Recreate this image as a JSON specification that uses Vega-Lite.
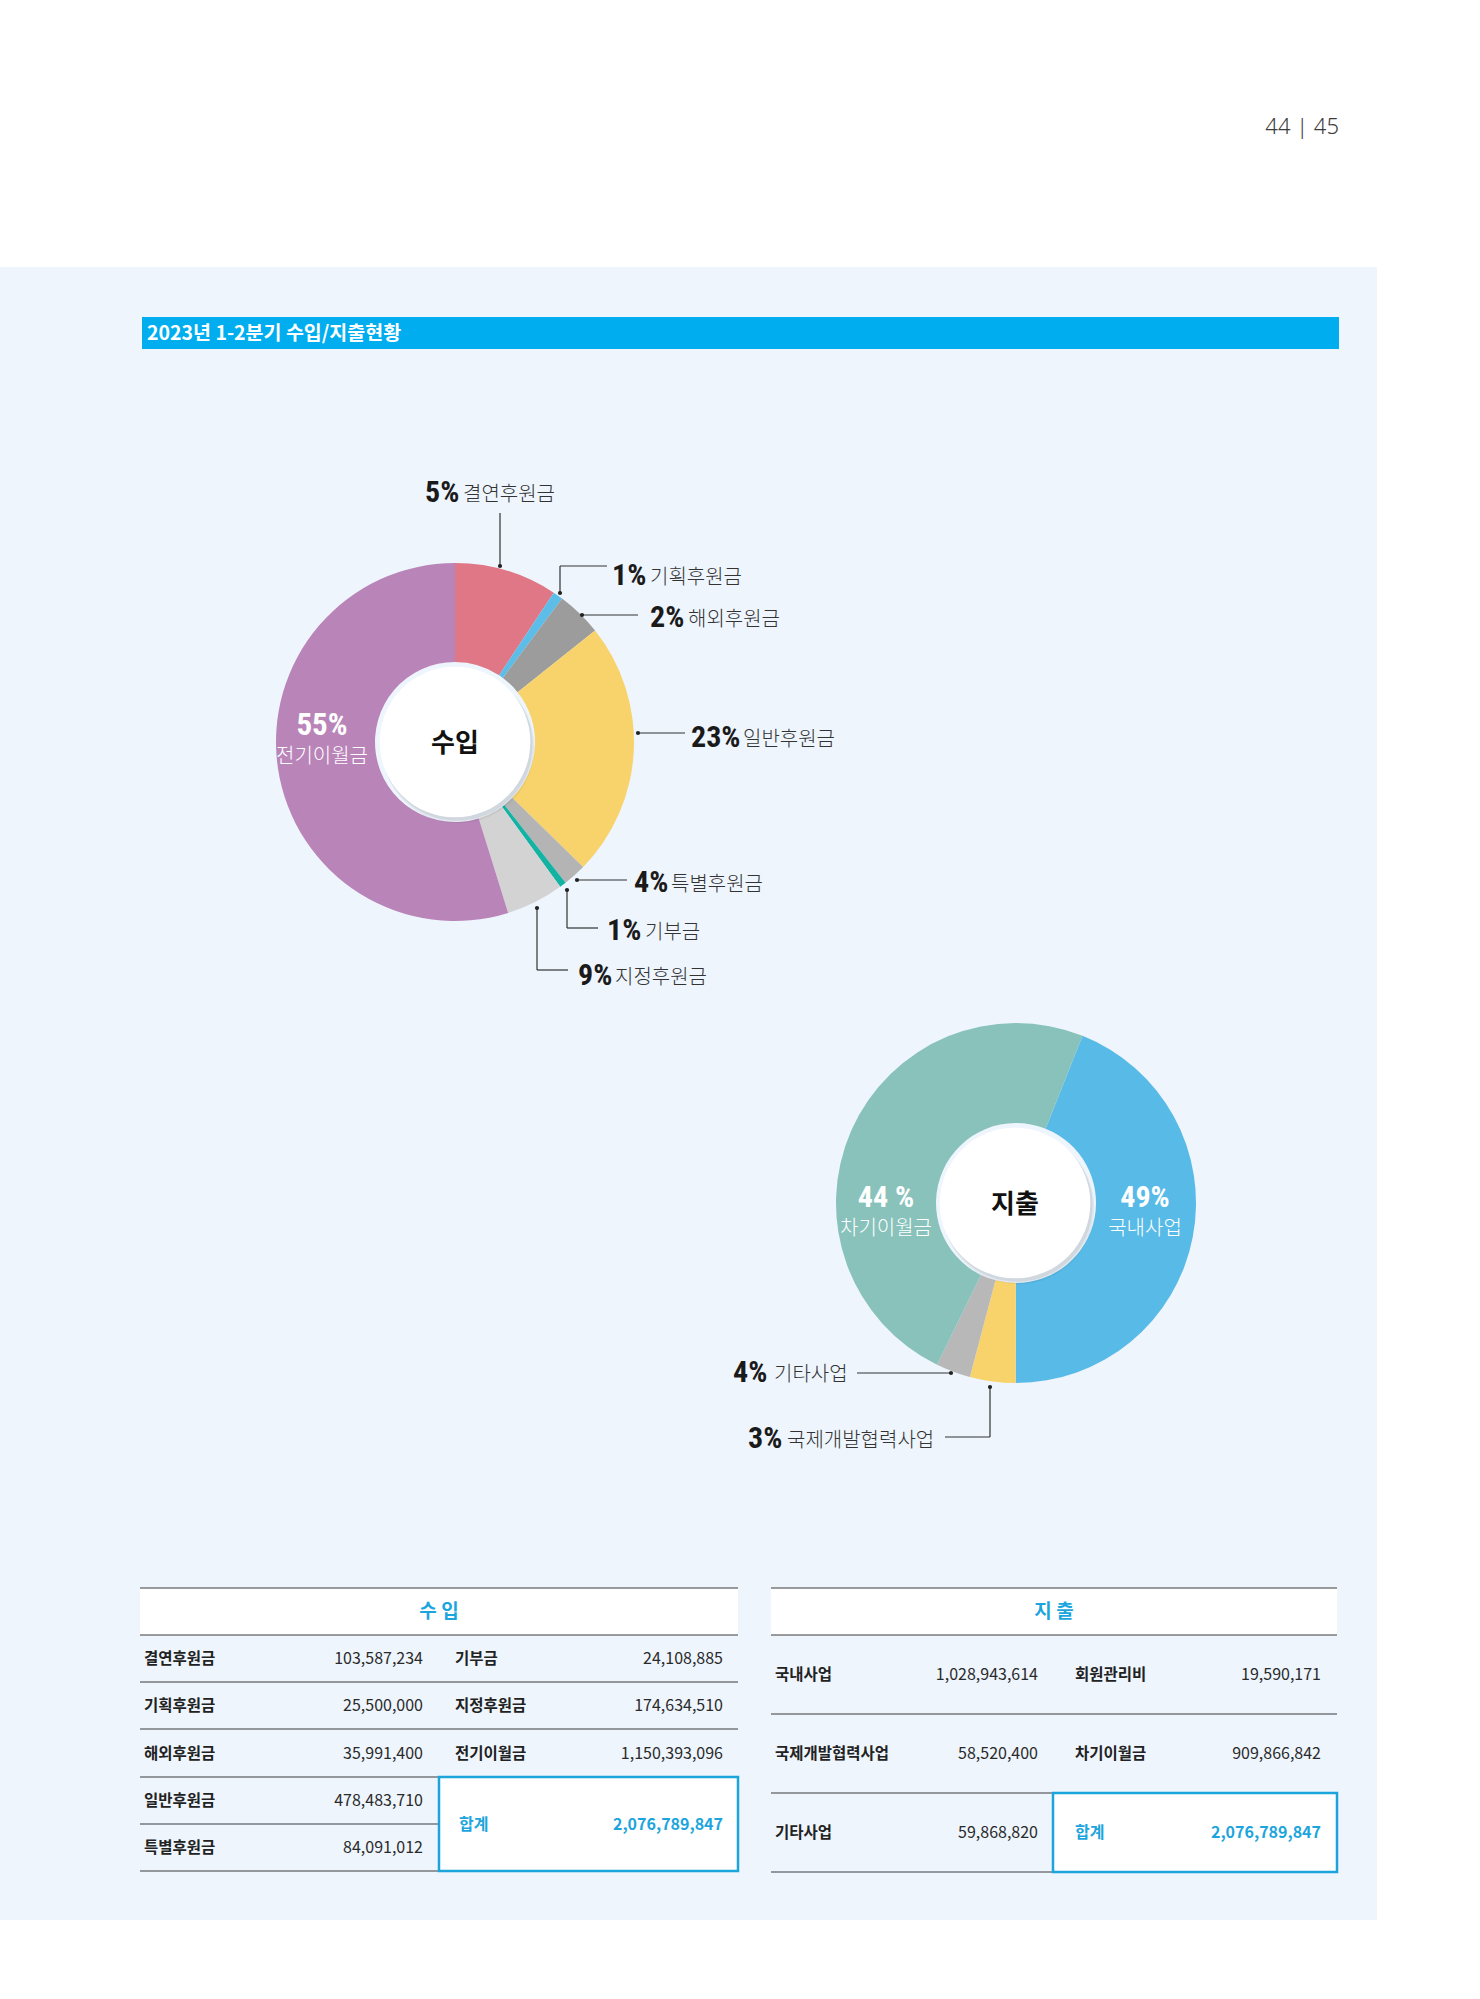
{
 "$schema": "https://vega.github.io/schema/vega-lite/v6.json",
 "width": 1480,
 "height": 1999,
 "autosize": {"type": "fit", "contains": "padding"},
 "padding": 0,
 "background": "#ffffff",
 "config": {"view": {"stroke": null}, "text": {"font": "Noto Sans CJK KR"}},
 "datasets": {
  "income": [
   {"idx": 1, "cat": "결연후원금", "share": 9.3, "pct": "5%"},
   {"idx": 2, "cat": "기획후원금", "share": 0.9, "pct": "1%"},
   {"idx": 3, "cat": "해외후원금", "share": 4.1, "pct": "2%"},
   {"idx": 4, "cat": "일반후원금", "share": 23.0, "pct": "23%"},
   {"idx": 5, "cat": "특별후원금", "share": 2.1, "pct": "4%"},
   {"idx": 6, "cat": "기부금", "share": 0.6, "pct": "1%"},
   {"idx": 7, "cat": "지정후원금", "share": 5.2, "pct": "9%"},
   {"idx": 8, "cat": "전기이월금", "share": 54.8, "pct": "55%"}
  ],
  "expense": [
   {"idx": 1, "cat": "국내사업", "share": 44.0, "pct": "49%"},
   {"idx": 2, "cat": "국제개발협력사업", "share": 4.1, "pct": "3%"},
   {"idx": 3, "cat": "기타사업", "share": 3.1, "pct": "4%"},
   {"idx": 4, "cat": "차기이월금", "share": 48.8, "pct": "44 %"}
  ],
  "inTable": [
   {"r": "1", "c": "1", "name": "결연후원금", "amount": 103587234},
   {"r": "1", "c": "2", "name": "기부금", "amount": 24108885},
   {"r": "2", "c": "1", "name": "기획후원금", "amount": 25500000},
   {"r": "2", "c": "2", "name": "지정후원금", "amount": 174634510},
   {"r": "3", "c": "1", "name": "해외후원금", "amount": 35991400},
   {"r": "3", "c": "2", "name": "전기이월금", "amount": 1150393096},
   {"r": "4", "c": "1", "name": "일반후원금", "amount": 478483710},
   {"r": "5", "c": "1", "name": "특별후원금", "amount": 84091012}
  ],
  "outTable": [
   {"r": "1", "c": "1", "name": "국내사업", "amount": 1028943614},
   {"r": "1", "c": "2", "name": "회원관리비", "amount": 19590171},
   {"r": "2", "c": "1", "name": "국제개발협력사업", "amount": 58520400},
   {"r": "2", "c": "2", "name": "차기이월금", "amount": 909866842},
   {"r": "3", "c": "1", "name": "기타사업", "amount": 59868820}
  ],
  "totals": [
   {"tbl": "in", "head": "수 입", "name": "합계", "amount": 2076789847},
   {"tbl": "out", "head": "지 출", "name": "합계", "amount": 2076789847}
  ],
  "page": [{"title": "2023년 1-2분기 수입/지출현황", "pages": "44 | 45", "inTitle": "수입", "outTitle": "지출"}]
 },
 "layer": [
  {"data": {"name": "page"}, "mark": {"type": "rect", "color": "#EEF5FD"}, "encoding": {"x": {"value": 0}, "x2": {"value": 1377}, "y": {"value": 267}, "y2": {"value": 1920}}},
  {"data": {"name": "page"}, "mark": {"type": "rect", "color": "#00AEEF"}, "encoding": {"x": {"value": 142}, "x2": {"value": 1339}, "y": {"value": 317}, "y2": {"value": 349}}},
  {"data": {"name": "page"}, "mark": {"type": "text", "align": "left", "baseline": "middle", "fontSize": 19.5, "fontWeight": "bold", "color": "#ffffff"}, "encoding": {"x": {"value": 147}, "y": {"value": 334}, "text": {"field": "title"}}},
  {"data": {"name": "page"}, "mark": {"type": "text", "align": "right", "baseline": "alphabetic", "font": "Noto Sans", "fontSize": 22, "fontWeight": 300, "color": "#3c3c3c"}, "encoding": {"x": {"value": 1339}, "y": {"value": 134}, "text": {"field": "pages"}}},

  {"data": {"name": "income"}, "mark": {"type": "arc", "outerRadius": 179, "innerRadius": 80, "strokeWidth": 0},
   "encoding": {"x": {"value": 455}, "y": {"value": 742},
    "theta": {"field": "share", "type": "quantitative", "stack": true},
    "order": {"field": "idx", "type": "quantitative"},
    "color": {"field": "cat", "type": "nominal", "legend": null,
     "scale": {"domain": ["결연후원금", "기획후원금", "해외후원금", "일반후원금", "특별후원금", "기부금", "지정후원금", "전기이월금"],
      "range": ["#E07786", "#5BBDE8", "#9C9C9C", "#F8D36C", "#B4B4B4", "#13B3A4", "#D3D3D3", "#B985B9"]}}}},
  {"data": {"name": "page"}, "mark": {"type": "point", "shape": "circle", "filled": true, "color": "#000000", "opacity": 0.05, "size": 23300}, "encoding": {"x": {"value": 458}, "y": {"value": 747}}},
  {"data": {"name": "page"}, "mark": {"type": "point", "shape": "circle", "filled": true, "color": "#000000", "opacity": 0.07, "size": 22900}, "encoding": {"x": {"value": 457}, "y": {"value": 745}}},
  {"data": {"name": "page"}, "mark": {"type": "point", "shape": "circle", "filled": true, "color": "#ffffff", "opacity": 1, "size": 22698}, "encoding": {"x": {"value": 455}, "y": {"value": 742}}},
  {"data": {"name": "page"}, "mark": {"type": "text", "align": "center", "baseline": "middle", "fontSize": 26, "fontWeight": "bold", "color": "#111111"}, "encoding": {"x": {"value": 455}, "y": {"value": 744}, "text": {"field": "inTitle"}}},

  {"data": {"name": "income"}, "transform": [{"filter": "datum.cat === '전기이월금'"}], "layer": [
   {"mark": {"type": "text", "align": "center", "baseline": "alphabetic", "font": "'Roboto Condensed', 'Liberation Sans Narrow', 'DejaVu Sans Condensed', sans-serif", "fontWeight": "bold", "fontSize": 31, "color": "#ffffff"}, "encoding": {"x": {"value": 322}, "y": {"value": 735}, "text": {"field": "pct"}}},
   {"mark": {"type": "text", "align": "center", "baseline": "alphabetic", "fontWeight": 300, "fontSize": 20, "color": "#ffffff"}, "encoding": {"x": {"value": 322}, "y": {"value": 763}, "text": {"field": "cat"}}}
  ]},

  {"data": {"name": "page"}, "mark": {"type": "rule", "color": "#333333", "strokeWidth": 1.2}, "encoding": {"x": {"value": 500}, "y": {"value": 513}, "y2": {"value": 566}}},
  {"data": {"name": "page"}, "mark": {"type": "rule", "color": "#333333", "strokeWidth": 1.2}, "encoding": {"x": {"value": 560}, "y": {"value": 566}, "y2": {"value": 593}}},
  {"data": {"name": "page"}, "mark": {"type": "rule", "color": "#333333", "strokeWidth": 1.2}, "encoding": {"x": {"value": 560}, "x2": {"value": 607}, "y": {"value": 566}}},
  {"data": {"name": "page"}, "mark": {"type": "rule", "color": "#333333", "strokeWidth": 1.2}, "encoding": {"x": {"value": 582}, "x2": {"value": 638}, "y": {"value": 615}}},
  {"data": {"name": "page"}, "mark": {"type": "rule", "color": "#333333", "strokeWidth": 1.2}, "encoding": {"x": {"value": 638}, "x2": {"value": 685}, "y": {"value": 733}}},
  {"data": {"name": "page"}, "mark": {"type": "rule", "color": "#333333", "strokeWidth": 1.2}, "encoding": {"x": {"value": 577}, "x2": {"value": 627}, "y": {"value": 880}}},
  {"data": {"name": "page"}, "mark": {"type": "rule", "color": "#333333", "strokeWidth": 1.2}, "encoding": {"x": {"value": 567}, "y": {"value": 890}, "y2": {"value": 928}}},
  {"data": {"name": "page"}, "mark": {"type": "rule", "color": "#333333", "strokeWidth": 1.2}, "encoding": {"x": {"value": 567}, "x2": {"value": 598}, "y": {"value": 928}}},
  {"data": {"name": "page"}, "mark": {"type": "rule", "color": "#333333", "strokeWidth": 1.2}, "encoding": {"x": {"value": 537}, "y": {"value": 908}, "y2": {"value": 970}}},
  {"data": {"name": "page"}, "mark": {"type": "rule", "color": "#333333", "strokeWidth": 1.2}, "encoding": {"x": {"value": 537}, "x2": {"value": 568}, "y": {"value": 970}}},
  {"data": {"name": "page"}, "mark": {"type": "rule", "color": "#333333", "strokeWidth": 1.2}, "encoding": {"x": {"value": 857}, "x2": {"value": 951}, "y": {"value": 1373}}},
  {"data": {"name": "page"}, "mark": {"type": "rule", "color": "#333333", "strokeWidth": 1.2}, "encoding": {"x": {"value": 945}, "x2": {"value": 990}, "y": {"value": 1437}}},
  {"data": {"name": "page"}, "mark": {"type": "rule", "color": "#333333", "strokeWidth": 1.2}, "encoding": {"x": {"value": 990}, "y": {"value": 1387}, "y2": {"value": 1437}}},

  {"data": {"name": "page"}, "mark": {"type": "point", "filled": true, "color": "#222222", "opacity": 1, "size": 18}, "encoding": {"x": {"value": 500}, "y": {"value": 566}}},
  {"data": {"name": "page"}, "mark": {"type": "point", "filled": true, "color": "#222222", "opacity": 1, "size": 18}, "encoding": {"x": {"value": 560}, "y": {"value": 593}}},
  {"data": {"name": "page"}, "mark": {"type": "point", "filled": true, "color": "#222222", "opacity": 1, "size": 18}, "encoding": {"x": {"value": 582}, "y": {"value": 615}}},
  {"data": {"name": "page"}, "mark": {"type": "point", "filled": true, "color": "#222222", "opacity": 1, "size": 18}, "encoding": {"x": {"value": 638}, "y": {"value": 733}}},
  {"data": {"name": "page"}, "mark": {"type": "point", "filled": true, "color": "#222222", "opacity": 1, "size": 18}, "encoding": {"x": {"value": 577}, "y": {"value": 880}}},
  {"data": {"name": "page"}, "mark": {"type": "point", "filled": true, "color": "#222222", "opacity": 1, "size": 18}, "encoding": {"x": {"value": 567}, "y": {"value": 890}}},
  {"data": {"name": "page"}, "mark": {"type": "point", "filled": true, "color": "#222222", "opacity": 1, "size": 18}, "encoding": {"x": {"value": 537}, "y": {"value": 908}}},
  {"data": {"name": "page"}, "mark": {"type": "point", "filled": true, "color": "#222222", "opacity": 1, "size": 18}, "encoding": {"x": {"value": 951}, "y": {"value": 1373}}},
  {"data": {"name": "page"}, "mark": {"type": "point", "filled": true, "color": "#222222", "opacity": 1, "size": 18}, "encoding": {"x": {"value": 990}, "y": {"value": 1387}}},

  {"data": {"name": "income"}, "transform": [{"filter": "datum.cat === '결연후원금'"}], "layer": [
   {"mark": {"type": "text", "align": "left", "baseline": "alphabetic", "font": "'Roboto Condensed', 'Liberation Sans Narrow', 'DejaVu Sans Condensed', sans-serif", "fontWeight": "bold", "fontSize": 30, "color": "#1a1a1a"}, "encoding": {"x": {"value": 425}, "y": {"value": 502}, "text": {"field": "pct"}}},
   {"mark": {"type": "text", "align": "left", "baseline": "alphabetic", "fontWeight": 300, "fontSize": 20, "color": "#333333"}, "encoding": {"x": {"value": 463}, "y": {"value": 501}, "text": {"field": "cat"}}}
  ]},
  {"data": {"name": "income"}, "transform": [{"filter": "datum.cat === '기획후원금'"}], "layer": [
   {"mark": {"type": "text", "align": "left", "baseline": "alphabetic", "font": "'Roboto Condensed', 'Liberation Sans Narrow', 'DejaVu Sans Condensed', sans-serif", "fontWeight": "bold", "fontSize": 30, "color": "#1a1a1a"}, "encoding": {"x": {"value": 612}, "y": {"value": 585}, "text": {"field": "pct"}}},
   {"mark": {"type": "text", "align": "left", "baseline": "alphabetic", "fontWeight": 300, "fontSize": 20, "color": "#333333"}, "encoding": {"x": {"value": 650}, "y": {"value": 584}, "text": {"field": "cat"}}}
  ]},
  {"data": {"name": "income"}, "transform": [{"filter": "datum.cat === '해외후원금'"}], "layer": [
   {"mark": {"type": "text", "align": "left", "baseline": "alphabetic", "font": "'Roboto Condensed', 'Liberation Sans Narrow', 'DejaVu Sans Condensed', sans-serif", "fontWeight": "bold", "fontSize": 30, "color": "#1a1a1a"}, "encoding": {"x": {"value": 650}, "y": {"value": 627}, "text": {"field": "pct"}}},
   {"mark": {"type": "text", "align": "left", "baseline": "alphabetic", "fontWeight": 300, "fontSize": 20, "color": "#333333"}, "encoding": {"x": {"value": 688}, "y": {"value": 626}, "text": {"field": "cat"}}}
  ]},
  {"data": {"name": "income"}, "transform": [{"filter": "datum.cat === '일반후원금'"}], "layer": [
   {"mark": {"type": "text", "align": "left", "baseline": "alphabetic", "font": "'Roboto Condensed', 'Liberation Sans Narrow', 'DejaVu Sans Condensed', sans-serif", "fontWeight": "bold", "fontSize": 30, "color": "#1a1a1a"}, "encoding": {"x": {"value": 691}, "y": {"value": 747}, "text": {"field": "pct"}}},
   {"mark": {"type": "text", "align": "left", "baseline": "alphabetic", "fontWeight": 300, "fontSize": 20, "color": "#333333"}, "encoding": {"x": {"value": 743}, "y": {"value": 746}, "text": {"field": "cat"}}}
  ]},
  {"data": {"name": "income"}, "transform": [{"filter": "datum.cat === '특별후원금'"}], "layer": [
   {"mark": {"type": "text", "align": "left", "baseline": "alphabetic", "font": "'Roboto Condensed', 'Liberation Sans Narrow', 'DejaVu Sans Condensed', sans-serif", "fontWeight": "bold", "fontSize": 30, "color": "#1a1a1a"}, "encoding": {"x": {"value": 634}, "y": {"value": 892}, "text": {"field": "pct"}}},
   {"mark": {"type": "text", "align": "left", "baseline": "alphabetic", "fontWeight": 300, "fontSize": 20, "color": "#333333"}, "encoding": {"x": {"value": 671}, "y": {"value": 891}, "text": {"field": "cat"}}}
  ]},
  {"data": {"name": "income"}, "transform": [{"filter": "datum.cat === '기부금'"}], "layer": [
   {"mark": {"type": "text", "align": "left", "baseline": "alphabetic", "font": "'Roboto Condensed', 'Liberation Sans Narrow', 'DejaVu Sans Condensed', sans-serif", "fontWeight": "bold", "fontSize": 30, "color": "#1a1a1a"}, "encoding": {"x": {"value": 607}, "y": {"value": 940}, "text": {"field": "pct"}}},
   {"mark": {"type": "text", "align": "left", "baseline": "alphabetic", "fontWeight": 300, "fontSize": 20, "color": "#333333"}, "encoding": {"x": {"value": 645}, "y": {"value": 939}, "text": {"field": "cat"}}}
  ]},
  {"data": {"name": "income"}, "transform": [{"filter": "datum.cat === '지정후원금'"}], "layer": [
   {"mark": {"type": "text", "align": "left", "baseline": "alphabetic", "font": "'Roboto Condensed', 'Liberation Sans Narrow', 'DejaVu Sans Condensed', sans-serif", "fontWeight": "bold", "fontSize": 30, "color": "#1a1a1a"}, "encoding": {"x": {"value": 578}, "y": {"value": 985}, "text": {"field": "pct"}}},
   {"mark": {"type": "text", "align": "left", "baseline": "alphabetic", "fontWeight": 300, "fontSize": 20, "color": "#333333"}, "encoding": {"x": {"value": 615}, "y": {"value": 984}, "text": {"field": "cat"}}}
  ]},

  {"data": {"name": "expense"}, "mark": {"type": "arc", "outerRadius": 180, "innerRadius": 80, "strokeWidth": 0},
   "encoding": {"x": {"value": 1016}, "y": {"value": 1203},
    "theta": {"field": "share", "type": "quantitative", "stack": true, "scale": {"range": [0.3787, 6.6619]}},
    "order": {"field": "idx", "type": "quantitative"},
    "color": {"field": "cat", "type": "nominal", "legend": null,
     "scale": {"domain": ["국내사업", "국제개발협력사업", "기타사업", "차기이월금"], "range": ["#58BAE6", "#F8D36C", "#B8B8B8", "#88C2BB"]}}}},
  {"data": {"name": "page"}, "mark": {"type": "point", "shape": "circle", "filled": true, "color": "#000000", "opacity": 0.05, "size": 23300}, "encoding": {"x": {"value": 1018}, "y": {"value": 1208}}},
  {"data": {"name": "page"}, "mark": {"type": "point", "shape": "circle", "filled": true, "color": "#000000", "opacity": 0.07, "size": 22900}, "encoding": {"x": {"value": 1017}, "y": {"value": 1206}}},
  {"data": {"name": "page"}, "mark": {"type": "point", "shape": "circle", "filled": true, "color": "#ffffff", "opacity": 1, "size": 22698}, "encoding": {"x": {"value": 1015}, "y": {"value": 1203}}},
  {"data": {"name": "page"}, "mark": {"type": "text", "align": "center", "baseline": "middle", "fontSize": 26, "fontWeight": "bold", "color": "#111111"}, "encoding": {"x": {"value": 1015}, "y": {"value": 1205}, "text": {"field": "outTitle"}}},

  {"data": {"name": "expense"}, "transform": [{"filter": "datum.cat === '차기이월금'"}], "layer": [
   {"mark": {"type": "text", "align": "center", "baseline": "alphabetic", "font": "'Roboto Condensed', 'Liberation Sans Narrow', 'DejaVu Sans Condensed', sans-serif", "fontWeight": "bold", "fontSize": 30, "color": "#ffffff"}, "encoding": {"x": {"value": 886}, "y": {"value": 1207}, "text": {"field": "pct"}}},
   {"mark": {"type": "text", "align": "center", "baseline": "alphabetic", "fontWeight": 300, "fontSize": 20, "color": "#ffffff"}, "encoding": {"x": {"value": 886}, "y": {"value": 1235}, "text": {"field": "cat"}}}
  ]},
  {"data": {"name": "expense"}, "transform": [{"filter": "datum.cat === '국내사업'"}], "layer": [
   {"mark": {"type": "text", "align": "center", "baseline": "alphabetic", "font": "'Roboto Condensed', 'Liberation Sans Narrow', 'DejaVu Sans Condensed', sans-serif", "fontWeight": "bold", "fontSize": 30, "color": "#ffffff"}, "encoding": {"x": {"value": 1145}, "y": {"value": 1207}, "text": {"field": "pct"}}},
   {"mark": {"type": "text", "align": "center", "baseline": "alphabetic", "fontWeight": 300, "fontSize": 20, "color": "#ffffff"}, "encoding": {"x": {"value": 1145}, "y": {"value": 1235}, "text": {"field": "cat"}}}
  ]},
  {"data": {"name": "expense"}, "transform": [{"filter": "datum.cat === '기타사업'"}], "layer": [
   {"mark": {"type": "text", "align": "left", "baseline": "alphabetic", "font": "'Roboto Condensed', 'Liberation Sans Narrow', 'DejaVu Sans Condensed', sans-serif", "fontWeight": "bold", "fontSize": 30, "color": "#1a1a1a"}, "encoding": {"x": {"value": 733}, "y": {"value": 1382}, "text": {"field": "pct"}}},
   {"mark": {"type": "text", "align": "left", "baseline": "alphabetic", "fontWeight": 300, "fontSize": 20, "color": "#333333"}, "encoding": {"x": {"value": 774}, "y": {"value": 1381}, "text": {"field": "cat"}}}
  ]},
  {"data": {"name": "expense"}, "transform": [{"filter": "datum.cat === '국제개발협력사업'"}], "layer": [
   {"mark": {"type": "text", "align": "left", "baseline": "alphabetic", "font": "'Roboto Condensed', 'Liberation Sans Narrow', 'DejaVu Sans Condensed', sans-serif", "fontWeight": "bold", "fontSize": 30, "color": "#1a1a1a"}, "encoding": {"x": {"value": 748}, "y": {"value": 1448}, "text": {"field": "pct"}}},
   {"mark": {"type": "text", "align": "left", "baseline": "alphabetic", "fontWeight": 300, "fontSize": 20, "color": "#333333"}, "encoding": {"x": {"value": 787}, "y": {"value": 1447}, "text": {"field": "cat"}}}
  ]},

  {"data": {"name": "page"}, "mark": {"type": "rect", "color": "#ffffff"}, "encoding": {"x": {"value": 140}, "x2": {"value": 738}, "y": {"value": 1588}, "y2": {"value": 1635}}},
  {"data": {"name": "page"}, "mark": {"type": "rect", "color": "#ffffff"}, "encoding": {"x": {"value": 771}, "x2": {"value": 1337}, "y": {"value": 1588}, "y2": {"value": 1635}}},

  {"data": {"name": "page"}, "mark": {"type": "rule", "color": "#3a3a3a", "strokeWidth": 1}, "encoding": {"x": {"value": 140}, "x2": {"value": 738}, "y": {"value": 1588}}},
  {"data": {"name": "page"}, "mark": {"type": "rule", "color": "#3a3a3a", "strokeWidth": 1}, "encoding": {"x": {"value": 140}, "x2": {"value": 738}, "y": {"value": 1635}}},
  {"data": {"name": "page"}, "mark": {"type": "rule", "color": "#3a3a3a", "strokeWidth": 1}, "encoding": {"x": {"value": 140}, "x2": {"value": 738}, "y": {"value": 1682}}},
  {"data": {"name": "page"}, "mark": {"type": "rule", "color": "#3a3a3a", "strokeWidth": 1}, "encoding": {"x": {"value": 140}, "x2": {"value": 738}, "y": {"value": 1729}}},
  {"data": {"name": "page"}, "mark": {"type": "rule", "color": "#3a3a3a", "strokeWidth": 1}, "encoding": {"x": {"value": 140}, "x2": {"value": 738}, "y": {"value": 1777}}},
  {"data": {"name": "page"}, "mark": {"type": "rule", "color": "#3a3a3a", "strokeWidth": 1}, "encoding": {"x": {"value": 140}, "x2": {"value": 438}, "y": {"value": 1824}}},
  {"data": {"name": "page"}, "mark": {"type": "rule", "color": "#3a3a3a", "strokeWidth": 1}, "encoding": {"x": {"value": 140}, "x2": {"value": 738}, "y": {"value": 1871}}},
  {"data": {"name": "page"}, "mark": {"type": "rule", "color": "#3a3a3a", "strokeWidth": 1}, "encoding": {"x": {"value": 771}, "x2": {"value": 1337}, "y": {"value": 1588}}},
  {"data": {"name": "page"}, "mark": {"type": "rule", "color": "#3a3a3a", "strokeWidth": 1}, "encoding": {"x": {"value": 771}, "x2": {"value": 1337}, "y": {"value": 1635}}},
  {"data": {"name": "page"}, "mark": {"type": "rule", "color": "#3a3a3a", "strokeWidth": 1}, "encoding": {"x": {"value": 771}, "x2": {"value": 1337}, "y": {"value": 1714}}},
  {"data": {"name": "page"}, "mark": {"type": "rule", "color": "#3a3a3a", "strokeWidth": 1}, "encoding": {"x": {"value": 771}, "x2": {"value": 1337}, "y": {"value": 1793}}},
  {"data": {"name": "page"}, "mark": {"type": "rule", "color": "#3a3a3a", "strokeWidth": 1}, "encoding": {"x": {"value": 771}, "x2": {"value": 1337}, "y": {"value": 1872}}},

  {"data": {"name": "page"}, "mark": {"type": "rect", "fill": "#ffffff", "stroke": "#1CA5DD", "strokeWidth": 2.5}, "encoding": {"x": {"value": 439}, "x2": {"value": 738}, "y": {"value": 1777}, "y2": {"value": 1871}}},
  {"data": {"name": "page"}, "mark": {"type": "rect", "fill": "#ffffff", "stroke": "#1CA5DD", "strokeWidth": 2.5}, "encoding": {"x": {"value": 1053}, "x2": {"value": 1337}, "y": {"value": 1793}, "y2": {"value": 1872}}},

  {"data": {"name": "totals"}, "mark": {"type": "text", "align": "center", "baseline": "middle", "fontSize": 19, "fontWeight": "bold", "color": "#1CA5DD"},
   "encoding": {"x": {"field": "tbl", "type": "nominal", "axis": null, "scale": {"type": "point", "domain": ["in", "out"], "range": [439, 1054], "padding": 0}}, "y": {"value": 1612}, "text": {"field": "head"}}},

  {"data": {"name": "inTable"}, "mark": {"type": "text", "align": "left", "baseline": "middle", "fontSize": 15.5, "fontWeight": "bold", "color": "#222222"},
   "encoding": {"x": {"field": "c", "type": "nominal", "axis": null, "scale": {"type": "point", "domain": ["1", "2"], "range": [144, 455], "padding": 0}},
    "y": {"field": "r", "type": "nominal", "axis": null, "scale": {"type": "point", "domain": ["1", "2", "3", "4", "5"], "range": [1659, 1848], "padding": 0}},
    "text": {"field": "name"}}},
  {"data": {"name": "inTable"}, "mark": {"type": "text", "align": "right", "baseline": "middle", "fontSize": 16, "color": "#2a2a2a"},
   "encoding": {"x": {"field": "c", "type": "nominal", "axis": null, "scale": {"type": "point", "domain": ["1", "2"], "range": [423, 723], "padding": 0}},
    "y": {"field": "r", "type": "nominal", "axis": null, "scale": {"type": "point", "domain": ["1", "2", "3", "4", "5"], "range": [1659, 1848], "padding": 0}},
    "text": {"field": "amount", "type": "quantitative", "format": ","}}},
  {"data": {"name": "outTable"}, "mark": {"type": "text", "align": "left", "baseline": "middle", "fontSize": 15.5, "fontWeight": "bold", "color": "#222222"},
   "encoding": {"x": {"field": "c", "type": "nominal", "axis": null, "scale": {"type": "point", "domain": ["1", "2"], "range": [775, 1075], "padding": 0}},
    "y": {"field": "r", "type": "nominal", "axis": null, "scale": {"type": "point", "domain": ["1", "2", "3"], "range": [1675, 1833], "padding": 0}},
    "text": {"field": "name"}}},
  {"data": {"name": "outTable"}, "mark": {"type": "text", "align": "right", "baseline": "middle", "fontSize": 16, "color": "#2a2a2a"},
   "encoding": {"x": {"field": "c", "type": "nominal", "axis": null, "scale": {"type": "point", "domain": ["1", "2"], "range": [1038, 1321], "padding": 0}},
    "y": {"field": "r", "type": "nominal", "axis": null, "scale": {"type": "point", "domain": ["1", "2", "3"], "range": [1675, 1833], "padding": 0}},
    "text": {"field": "amount", "type": "quantitative", "format": ","}}},
  {"data": {"name": "totals"}, "mark": {"type": "text", "align": "left", "baseline": "middle", "fontSize": 16, "fontWeight": "bold", "color": "#1CA5DD"},
   "encoding": {"x": {"field": "tbl", "type": "nominal", "axis": null, "scale": {"type": "point", "domain": ["in", "out"], "range": [459, 1075], "padding": 0}},
    "y": {"field": "tbl", "type": "nominal", "axis": null, "scale": {"type": "point", "domain": ["in", "out"], "range": [1825, 1833], "padding": 0}},
    "text": {"field": "name"}}},
  {"data": {"name": "totals"}, "mark": {"type": "text", "align": "right", "baseline": "middle", "fontSize": 16, "fontWeight": "bold", "color": "#1CA5DD"},
   "encoding": {"x": {"field": "tbl", "type": "nominal", "axis": null, "scale": {"type": "point", "domain": ["in", "out"], "range": [723, 1321], "padding": 0}},
    "y": {"field": "tbl", "type": "nominal", "axis": null, "scale": {"type": "point", "domain": ["in", "out"], "range": [1825, 1833], "padding": 0}},
    "text": {"field": "amount", "type": "quantitative", "format": ","}}}
 ],
 "resolve": {"scale": {"x": "independent", "y": "independent", "theta": "independent", "color": "independent"}}
}
